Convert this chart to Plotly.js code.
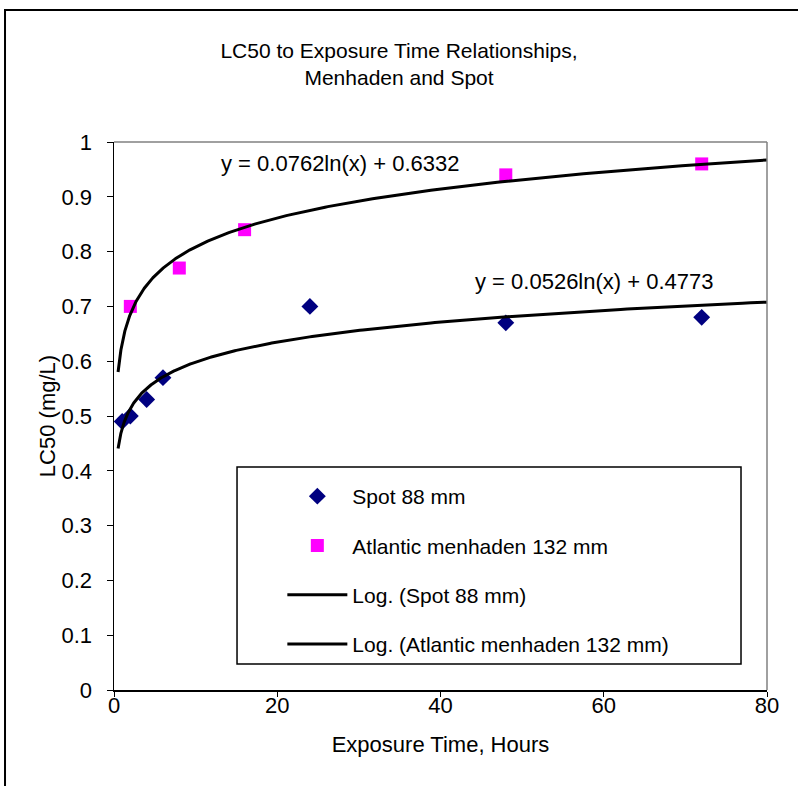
<!DOCTYPE html>
<html>
<head>
<meta charset="utf-8">
<script src="https://cdn.plot.ly/plotly-3.0.1.min.js"></script>
<style>body{margin:0;padding:0;background:#fff;}</style>
</head>
<body>
<div id="chart" style="width:798px;height:786px;"></div>
<script>
// Data
const spotHours = [1, 2, 4, 6, 24, 48, 72];
const spotLC50 = [0.49, 0.50, 0.53, 0.57, 0.70, 0.67, 0.68];
const menhadenHours = [2, 8, 16, 48, 72];
const menhadenLC50 = [0.70, 0.77, 0.84, 0.94, 0.96];
// Logarithmic trendline coefficients shown on the chart: y = a ln(x) + b
const spotFit = [0.0526, 0.4773];
const menhadenFit = [0.0762, 0.6332];
const fitRange = [0.5, 80];
const xTicks = [0, 20, 40, 60, 80];

function trend(coef) {
  const xs = [], ys = [];
  const n = 400;
  for (let i = 0; i <= n; i++) {
    const x = fitRange[0] * Math.pow(fitRange[1] / fitRange[0], i / n);
    xs.push(x);
    ys.push(coef[0] * Math.log(x) + coef[1]);
  }
  return {x: xs, y: ys};
}
function eqText(coef) {
  return 'y = ' + coef[0].toFixed(4) + 'ln(x) + ' + coef[1].toFixed(4);
}

const FONT = 'Arial, "Liberation Sans", sans-serif';
const tS = trend(spotFit), tM = trend(menhadenFit);

const traces = [
  {x: spotHours, y: spotLC50, type: 'scatter', mode: 'markers', name: 'Spot 88 mm',
   legendgroup: 'a', marker: {symbol: 'diamond', size: 13, color: '#000080'}},
  {x: menhadenHours, y: menhadenLC50, type: 'scatter', mode: 'markers', name: 'Atlantic menhaden 132 mm',
   legendgroup: 'b', marker: {symbol: 'square', size: 13, color: '#FF00FF'}},
  {x: tS.x, y: tS.y, type: 'scatter', mode: 'lines', name: 'Log. (Spot 88 mm)',
   legendgroup: 'c', line: {color: '#000', width: 3}},
  {x: tM.x, y: tM.y, type: 'scatter', mode: 'lines', name: 'Log. (Atlantic menhaden 132 mm)',
   legendgroup: 'd', line: {color: '#000', width: 3}}
];

const layout = {
  width: 798, height: 786,
  margin: {l: 114, r: 31, t: 142, b: 96},
  paper_bgcolor: '#fff', plot_bgcolor: '#fff',
  font: {family: FONT, size: 21, color: '#000'},
  title: {text: 'LC50 to Exposure Time Relationships,<br>Menhaden and Spot',
          font: {family: FONT, size: 21, color: '#000'},
          x: 0.5, xref: 'container', xanchor: 'center',
          y: 1 - 58 / 786, yref: 'container', yanchor: 'top'},
  xaxis: {range: [0, 80], tickvals: xTicks, ticks: 'outside', ticklen: 5, tickcolor: '#000',
          showline: true, linecolor: '#000', linewidth: 1.5, showgrid: false, zeroline: false,
          ticklabelstandoff: -10,
          tickfont: {family: FONT, size: 22},
          title: {text: 'Exposure Time, Hours', font: {family: FONT, size: 22}, standoff: 19}},
  yaxis: {range: [0, 1], dtick: 0.1, ticks: 'outside', ticklen: 6, tickcolor: '#000',
          showline: true, linecolor: '#000', linewidth: 1.5, showgrid: false, zeroline: false,
          ticklabelstandoff: 10,
          tickfont: {family: FONT, size: 22},
          title: {text: 'LC50 (mg/L)', font: {family: FONT, size: 22}, standoff: 0}},
  showlegend: true,
  legend: {x: 0.2578, xanchor: 'left', y: 0.3905, yanchor: 'top', bgcolor: 'rgba(0,0,0,0)',
           borderwidth: 0, font: {family: FONT, size: 21}, traceorder: 'grouped',
           tracegroupgap: 19, itemwidth: 60},
  shapes: [
    // outer frame
    {type: 'rect', xref: 'paper', yref: 'paper', x0: -0.1669, x1: 1.06, y0: -0.19, y1: 1.2409,
     line: {color: '#000', width: 2}, layer: 'below'},
    // plot area top/right border (gray)
    {type: 'line', xref: 'paper', yref: 'paper', x0: 0, x1: 1, y0: 1, y1: 1, line: {color: '#808080', width: 1.5}},
    {type: 'line', xref: 'paper', yref: 'paper', x0: 1, x1: 1, y0: 0, y1: 1, line: {color: '#808080', width: 1.5}},
    // legend box
    {type: 'rect', xref: 'paper', yref: 'paper', x0: 0.1884, x1: 0.9602, y0: 0.0474, y1: 0.4069,
     line: {color: '#000', width: 1.5}, fillcolor: '#fff', layer: 'below'}
  ],
  annotations: [
    {x: 27.7, y: 0.960, xref: 'x', yref: 'y', text: eqText(menhadenFit), showarrow: false,
     font: {family: FONT, size: 22}},
    {x: 58.9, y: 0.745, xref: 'x', yref: 'y', text: eqText(spotFit), showarrow: false,
     font: {family: FONT, size: 22}}
  ]
};

Plotly.newPlot('chart', traces, layout, {displayModeBar: false, staticPlot: true});
</script>
</body>
</html>
